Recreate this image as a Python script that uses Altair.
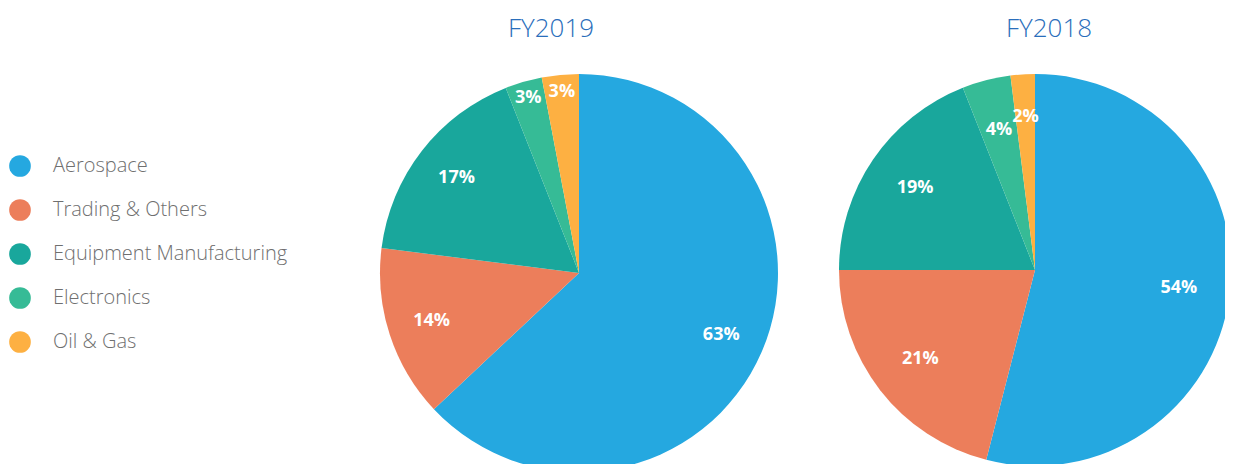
import altair as alt
import pandas as pd

categories = ["Aerospace", "Trading & Others", "Equipment Manufacturing", "Electronics", "Oil & Gas"]
fy2019 = [63, 14, 17, 3, 3]
fy2018 = [54, 21, 19, 4, 2]
years = ["FY2019", "FY2018"]
colors = ["#25a8e0", "#ec7e5b", "#19a79c", "#36bb96", "#fdb042"]

rows = []
for yr, vals in zip(years, [fy2019, fy2018]):
    for i, (c, v) in enumerate(zip(categories, vals)):
        rows.append({"year": yr, "category": c, "share": v, "idx": i, "label": f"{v}%"})
df = pd.DataFrame(rows)

TOP = 8  # top padding inside the svg
# layout (plot coordinates; page has 8px margin plus TOP padding)
pies = {
    "FY2019": dict(cx=571, cy=265 - TOP, r=199, tx=543, ty=29 - TOP, small_r=182, big_r=155),
    "FY2018": dict(cx=1027, cy=262 - TOP, r=196, tx=1041, ty=29 - TOP, small_r=153, big_r=145),
}

theta_scale = alt.Scale(domain=[0, 100])

color = alt.Color(
    "category:N",
    scale=alt.Scale(domain=categories, range=colors),
    sort=categories,
    legend=alt.Legend(
        title=None,
        orient="none",
        legendX=1,
        legendY=147 - TOP,
        symbolType="circle",
        symbolSize=470,
        symbolStrokeWidth=0,
        symbolOpacity=1,
        labelFontSize=20,
        labelFont="Open Sans",
        labelFontWeight=300,
        labelColor="#6f6f6f",
        labelOffset=22,
        labelLimit=400,
        rowPadding=22,
        padding=0,
    ),
)

layers = []
base = alt.Chart(df)
for yr in years:
    p = pies[yr]
    sub = base.transform_filter(alt.datum.year == yr)
    arc = sub.mark_arc(outerRadius=p["r"], stroke=None).encode(
        theta=alt.Theta("share:Q", stack=True, scale=theta_scale),
        order=alt.Order("idx:Q"),
        color=color,
        x=alt.value(p["cx"]),
        y=alt.value(p["cy"]),
    )
    lab = sub.transform_window(
        cum="sum(share)", sort=[alt.SortField("idx")]
    ).transform_calculate(mid="datum.cum - datum.share / 2")
    for cond, rad in [("datum.share >= 4", p["big_r"]), ("datum.share < 4", p["small_r"])]:
        txt = lab.transform_filter(cond).mark_text(
            fontSize=18, fontWeight="bold", font="Open Sans", color="white", radius=rad
        ).encode(
            theta=alt.Theta("mid:Q", stack=None, scale=theta_scale),
            text="label:N",
            x=alt.value(p["cx"]),
            y=alt.value(p["cy"]),
        )
        layers.append(txt)
    title = alt.Chart(pd.DataFrame({"t": [yr]})).mark_text(
        fontSize=26, font="Open Sans", fontWeight=300, color="#2a6ebb", baseline="alphabetic"
    ).encode(text="t:N", x=alt.value(p["tx"]), y=alt.value(p["ty"]))
    layers.insert(0, arc)
    layers.append(title)

chart = alt.layer(*layers).properties(
    width=1217, height=456 - TOP, autosize="none",
    padding={"top": TOP, "left": 0, "right": 0, "bottom": 0},
    background="white",
).configure_view(stroke=None)

chart.save("out.html", embed_options={"renderer": "svg", "actions": False})
